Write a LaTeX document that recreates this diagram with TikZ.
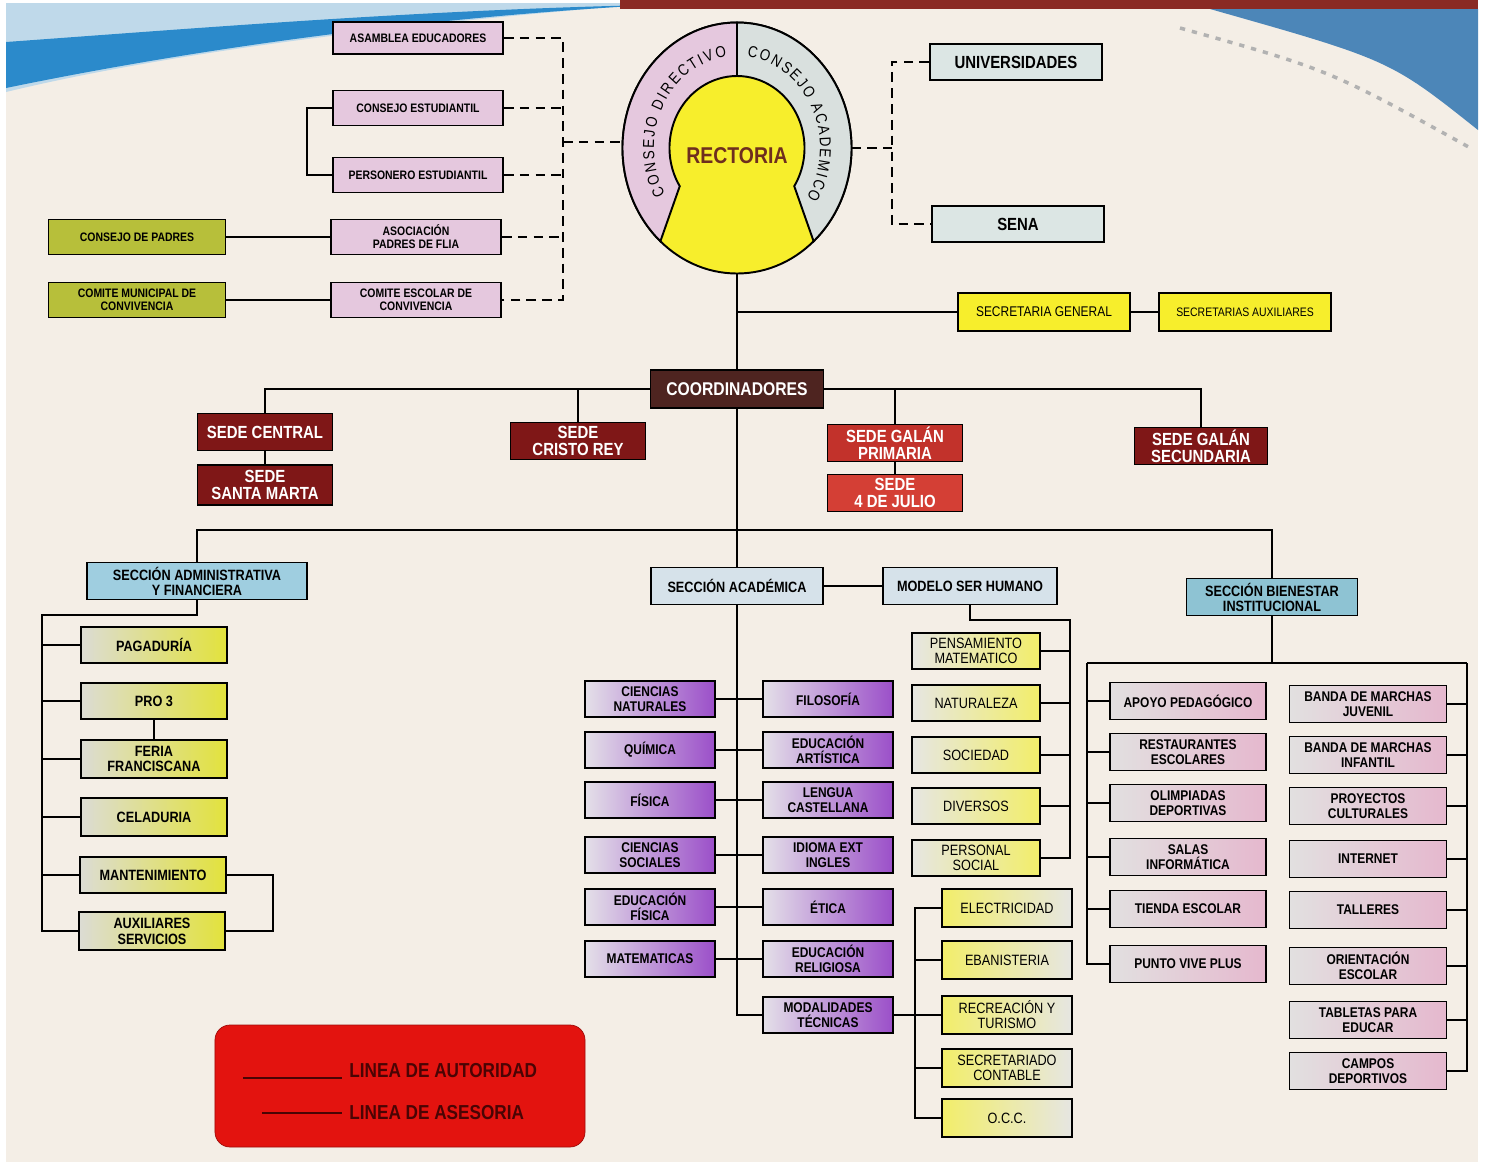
\documentclass[tikz,border=0pt]{standalone}
\usepackage{fontspec}
\setmainfont{Liberation Sans}[FakeStretch=0.85]
\usetikzlibrary{positioning,shapes.geometric,decorations.text,calc}
\definecolor{bgc}{HTML}{F4EEE6}
\definecolor{skyc}{HTML}{BFD9EA}
\definecolor{bluec}{HTML}{2B8ACB}
\definecolor{topred}{HTML}{8A2A24}
\definecolor{bluetr}{HTML}{4C86B8}
\definecolor{pinkc}{HTML}{E5C8DE}
\definecolor{olivec}{HTML}{B7BF3A}
\definecolor{extc}{HTML}{DCE6E4}
\definecolor{yelc}{HTML}{F7EE2C}
\definecolor{ringc}{HTML}{D9E0DE}
\definecolor{rectc}{HTML}{6E2E1E}
\definecolor{brownc}{HTML}{4E2420}
\definecolor{sedec}{HTML}{7F1717}
\definecolor{sedelc}{HTML}{C2322B}
\definecolor{sedel2}{HTML}{D43F35}
\definecolor{admc}{HTML}{9FCEE0}
\definecolor{acac}{HTML}{D6E2EA}
\definecolor{bienc}{HTML}{8EC3D3}
\definecolor{admlc}{HTML}{DCDCD4}
\definecolor{admrc}{HTML}{E2E23C}
\definecolor{purlc}{HTML}{E4E0E8}
\definecolor{purrc}{HTML}{9B4FC9}
\definecolor{modlc}{HTML}{E6E6E2}
\definecolor{modrc}{HTML}{F2EE6A}
\definecolor{bienlc}{HTML}{E2E0E0}
\definecolor{bienrc}{HTML}{E5B8CE}
\definecolor{legc}{HTML}{E3130F}
\definecolor{legtc}{HTML}{4A0404}

\begin{document}
\begin{tikzpicture}[x=0.2mm,y=-0.2mm,
    line/.style={line width=1.5pt},
    dline/.style={line width=1.5pt, dash pattern=on 5.5pt off 3.5pt},
    box/.style={draw, line width=1.1pt, align=center, inner sep=1pt, minimum height=7.2mm,
        font=\bfseries\fontsize{8}{8.5}\selectfont},
    pinkbox/.style={box, fill=pinkc, minimum width=34mm, minimum height=7mm,
        font=\bfseries\fontsize{7}{7.5}\selectfont},
    olivebox/.style={box, fill=olivec, minimum width=35.4mm, minimum height=7mm,
        font=\bfseries\fontsize{7}{7.5}\selectfont},
    extbox/.style={box, fill=extc, minimum width=34.4mm, font=\bfseries\fontsize{10}{11}\selectfont},
    secbox/.style={box, fill=yelc, minimum width=34.4mm, minimum height=7.6mm,
        font=\fontsize{8}{9}\selectfont},
    coordbox/.style={box, fill=brownc, text=white, minimum width=34.6mm, minimum height=7.6mm,
        font=\bfseries\fontsize{10.5}{11}\selectfont},
    sedebox/.style={box, fill=sedec, text=white, minimum width=27mm, minimum height=7.4mm,
        font=\bfseries\fontsize{10}{9.5}\selectfont},
    sedelt/.style={sedebox, fill=sedelc},
    sectbox/.style={box, fill=#1, minimum height=7.4mm, font=\bfseries\fontsize{8.5}{8.5}\selectfont},
    admbox/.style={box, left color=admlc, right color=admrc, minimum width=29.2mm,
        font=\bfseries\fontsize{8.5}{9}\selectfont},
    purbox/.style={box, left color=purlc, right color=purrc, minimum width=26mm},
    modbox/.style={box, left color=modlc, right color=modrc, minimum width=25.6mm,
        font=\fontsize{8.5}{8.5}\selectfont},
    tecbox/.style={box, left color=modrc, right color=modlc, minimum width=26mm, minimum height=7.6mm,
        font=\fontsize{8.5}{8.5}\selectfont},
    bienbox/.style={box, left color=bienlc, right color=bienrc, minimum width=31.2mm, minimum height=7.4mm},
    legbox/.style={draw=legc!70!black, fill=legc, rounded corners=3mm, minimum width=74mm, minimum height=24.4mm},
    legtxt/.style={text=legtc, inner ysep=0pt, inner xsep=4pt, font=\bfseries\fontsize{11.5}{11.5}\selectfont}]

    % paper
    \fill[white] (0,0) rectangle (1485,1167);
    \fill[bgc] (6,3) rectangle (1478,1162);
    \fill[skyc] (6,3) -- (660,3) .. controls (420,22) and (180,50) .. (6,92) -- cycle;
    \fill[bluec] (6,42) .. controls (200,28) and (420,10) .. (650,5) .. controls (420,18) and (200,48) .. (6,88) -- cycle;
    \fill[topred] (620,0) rectangle (1478,9);
    \fill[bluetr] (1210,9) -- (1478,9) -- (1478,130) .. controls (1390,60) .. cycle;
    \draw[gray!60, line width=2pt, dash pattern=on 3pt off 4pt] (1180,28) .. controls (1330,70) .. (1474,150);

    % rectoria
    \node[ellipse, draw, line width=1.1pt, fill=yelc, minimum width=45.8mm, minimum height=50.2mm,
        inner sep=0pt, outer sep=0pt] (rect) at (737,148) {};
    \filldraw[fill=pinkc, line width=1.1pt] (rect.north)
        arc[start angle=90, end angle=228, x radius=22.9mm, y radius=25.1mm]
        -- ($(rect.center)+(212:13.5mm and 14.4mm)$)
        arc[start angle=212, end angle=90, x radius=13.5mm, y radius=14.4mm] -- cycle;
    \filldraw[fill=ringc, line width=1.1pt] (rect.north)
        arc[start angle=90, end angle=-48, x radius=22.9mm, y radius=25.1mm]
        -- ($(rect.center)+(-32:13.5mm and 14.4mm)$)
        arc[start angle=-32, end angle=90, x radius=13.5mm, y radius=14.4mm] -- cycle;
    \path[decorate, decoration={text along path, text align=fit to path,
        text={|\fontsize{9}{9}\selectfont|CONSEJO DIRECTIVO}}]
        ($(rect.center)+(210:16.6mm and 18.4mm)$)
        arc[start angle=210, end angle=97, x radius=16.6mm, y radius=18.4mm];
    \path[decorate, decoration={text along path, text align=fit to path,
        text={|\fontsize{9}{9}\selectfont|CONSEJO ACADEMICO}}]
        ($(rect.center)+(83:16.6mm and 18.4mm)$)
        arc[start angle=83, end angle=-33, x radius=16.6mm, y radius=18.4mm];
    \node[text=rectc, font=\bfseries\fontsize{13}{13}\selectfont] (rtx) at (737,156) {RECTORIA};

    % asesoria
    \node[pinkbox, minimum height=6.4mm] (ase) at (418,38) {ASAMBLEA EDUCADORES};
    \node[pinkbox] (ces) at (418,108) {CONSEJO ESTUDIANTIL};
    \node[pinkbox] (per) at (418,175) {PERSONERO ESTUDIANTIL};
    \node[pinkbox] (apf) at (416,237) {ASOCIACIÓN\\PADRES DE FLIA};
    \node[pinkbox] (cec) at (416,300) {COMITE ESCOLAR DE\\CONVIVENCIA};
    \node[olivebox] (cdp) at (137,237) {CONSEJO DE PADRES};
    \node[olivebox] (cmc) at (137,300) {COMITE MUNICIPAL DE\\CONVIVENCIA};
    \coordinate (jl) at (563,142);
    \coordinate (jb) at (307,140);
    \draw[dline] (ase.east) -| (jl) |- (cec.east);
    \draw[dline] (ces.east) -- (ces.east -| jl);
    \draw[dline] (per.east) -- (per.east -| jl);
    \draw[dline] (apf.east) -- (apf.east -| jl);
    \draw[dline] (jl) -- (jl -| rect.west);
    \draw[line] (ces.west) -| (jb) |- (per.west);
    \draw[line] (cdp) -- (apf);
    \draw[line] (cmc) -- (cec);

    \node[extbox] (uni) at (1016,62) {UNIVERSIDADES};
    \node[extbox] (sena) at (1018,224) {SENA};
    \coordinate (jr) at (892,148);
    \draw[dline] (rect.east) -- (jr);
    \draw[dline] (uni.west) -| (jr) |- (sena.west);

    \node[secbox] (sg) at (1044,312) {SECRETARIA GENERAL};
    \node[secbox, font=\fontsize{7}{7}\selectfont] (sa) at (1245,312) {SECRETARIAS AUXILIARES};
    \draw[line] (sg.west) -- (sg.west -| rect.south);
    \draw[line] (sg) -- (sa);

    % coordinadores y sedes
    \node[coordbox] (coo) at (737,389) {COORDINADORES};
    \draw[line] (rect.south) -- (coo.north);
    \node[sedebox] (sc) at (265,432) {SEDE CENTRAL};
    \node[sedebox, minimum height=8mm] (ssm) at (265,485) {SEDE\\SANTA MARTA};
    \node[sedebox] (scr) at (578,441) {SEDE\\CRISTO REY};
    \node[sedelt] (sgp) at (895,443) {SEDE GALÁN\\PRIMARIA};
    \node[sedelt, fill=sedel2] (s4j) at (895,493) {SEDE\\4 DE JULIO};
    \node[sedebox, minimum width=26.6mm] (sgs) at (1201,446) {SEDE GALÁN\\SECUNDARIA};
    \draw[line] (sc.north) |- (coo.west);
    \draw[line] (scr.north) |- (coo.west);
    \draw[line] (sgp.north) |- (coo.east);
    \draw[line] (sgs.north) |- (coo.east);
    \draw[line] (sc) -- (ssm);
    \draw[line] (sgp) -- (s4j);

    % secciones
    \node[sectbox=admc, minimum width=44mm] (adm) at (197,581) {SECCIÓN ADMINISTRATIVA\\Y FINANCIERA};
    \node[sectbox=acac, minimum width=34.4mm] (aca) at (737,586) {SECCIÓN ACADÉMICA};
    \node[sectbox=acac, minimum width=34.8mm] (mod) at (970,586) {MODELO SER HUMANO};
    \node[sectbox=bienc, minimum width=34.2mm] (bie) at (1272,597) {SECCIÓN BIENESTAR\\INSTITUCIONAL};
    \coordinate (mb) at (737,530);
    \draw[line] (coo.south) -- (aca.north);
    \draw[line] (adm.north) |- (mb) -| (bie.north);
    \draw[line] (aca) -- (mod);

    % administrativa
    \node[admbox] (pag) at (154,645) {PAGADURÍA};
    \node[admbox] (pro) at (154,701) {PRO 3};
    \node[admbox, minimum height=7.6mm] (fer) at (154,759) {FERIA\\FRANCISCANA};
    \node[admbox, minimum height=7.6mm] (cel) at (154,817) {CELADURIA};
    \node[admbox] (man) at (153,875) {MANTENIMIENTO};
    \node[admbox, minimum height=7.6mm] (aux) at (152,931) {AUXILIARES\\SERVICIOS};
    \coordinate (ja) at (42,615);
    \coordinate (jm) at (273,903);
    \draw[line] (adm.south) |- (ja) |- (aux.west);
    \foreach \n in {pag,pro,fer,cel,man}
        \draw[line] (\n.west) -- (\n.west -| ja);
    \draw[line] (pro) -- (fer);
    \draw[line] (man.east) -| (jm) |- (aux.east);

    % academica
    \node[purbox] (cn) at (650,699) {CIENCIAS\\NATURALES};
    \node[purbox] (qui) at (650,750) {QUÍMICA};
    \node[purbox] (fis) at (650,800) {FÍSICA};
    \node[purbox] (cs) at (650,855) {CIENCIAS\\SOCIALES};
    \node[purbox] (ef) at (650,907) {EDUCACIÓN\\FÍSICA};
    \node[purbox] (mat) at (650,959) {MATEMATICAS};
    \node[purbox] (fil) at (828,699) {FILOSOFÍA};
    \node[purbox] (ea) at (828,750) {EDUCACIÓN\\ARTÍSTICA};
    \node[purbox] (lc) at (828,800) {LENGUA\\CASTELLANA};
    \node[purbox] (ing) at (828,855) {IDIOMA EXT\\INGLES};
    \node[purbox] (eti) at (828,907) {ÉTICA};
    \node[purbox] (er) at (828,959) {EDUCACIÓN\\RELIGIOSA};
    \node[purbox] (mt) at (828,1015) {MODALIDADES\\TÉCNICAS};
    \draw[line] (aca.south) |- (mt.west);
    \draw[line] (cn) -- (fil);
    \draw[line] (qui) -- (ea);
    \draw[line] (fis) -- (lc);
    \draw[line] (cs) -- (ing);
    \draw[line] (ef) -- (eti);
    \draw[line] (mat) -- (er);

    % modelo ser humano
    \node[modbox] (pm) at (976,651) {PENSAMIENTO\\MATEMATICO};
    \node[modbox] (nat) at (976,703) {NATURALEZA};
    \node[modbox] (soc) at (976,755) {SOCIEDAD};
    \node[modbox] (div) at (976,806) {DIVERSOS};
    \node[modbox] (ps) at (976,858) {PERSONAL\\SOCIAL};
    \coordinate (jh) at (1070,620);
    \draw[line] (mod.south) |- (jh) |- (ps.east);
    \foreach \n in {pm,nat,soc,div}
        \draw[line] (\n.east) -- (\n.east -| jh);

    % modalidades
    \node[tecbox] (ele) at (1007,908) {ELECTRICIDAD};
    \node[tecbox] (eba) at (1007,960) {EBANISTERIA};
    \node[tecbox] (rtu) at (1007,1015) {RECREACIÓN Y\\TURISMO};
    \node[tecbox] (sct) at (1007,1068) {SECRETARIADO\\CONTABLE};
    \node[tecbox] (occ) at (1007,1118) {O.C.C.};
    \coordinate (jt) at (915,1000);
    \draw[line] (ele.west) -| (jt) |- (occ.west);
    \foreach \n in {eba,sct}
        \draw[line] (\n.west) -- (\n.west -| jt);
    \draw[line] (mt) -- (rtu);

    % bienestar
    \node[bienbox] (apo) at (1188,701) {APOYO PEDAGÓGICO};
    \node[bienbox] (res) at (1188,752) {RESTAURANTES\\ESCOLARES};
    \node[bienbox] (oli) at (1188,803) {OLIMPIADAS\\DEPORTIVAS};
    \node[bienbox] (sal) at (1188,857) {SALAS\\INFORMÁTICA};
    \node[bienbox] (tie) at (1188,909) {TIENDA ESCOLAR};
    \node[bienbox] (pvp) at (1188,964) {PUNTO VIVE PLUS};
    \node[bienbox, minimum width=31.4mm] (bj) at (1368,704) {BANDA DE MARCHAS\\JUVENIL};
    \node[bienbox, minimum width=31.4mm] (bi) at (1368,755) {BANDA DE MARCHAS\\INFANTIL};
    \node[bienbox, minimum width=31.4mm] (pc) at (1368,806) {PROYECTOS\\CULTURALES};
    \node[bienbox, minimum width=31.4mm] (int) at (1368,859) {INTERNET};
    \node[bienbox, minimum width=31.4mm] (tal) at (1368,910) {TALLERES};
    \node[bienbox, minimum width=31.4mm] (ori) at (1368,966) {ORIENTACIÓN\\ESCOLAR};
    \node[bienbox, minimum width=31.4mm] (tab) at (1368,1020) {TABLETAS PARA\\EDUCAR};
    \node[bienbox, minimum width=31.4mm] (cam) at (1368,1071) {CAMPOS\\DEPORTIVOS};
    \coordinate (jwl) at (1087,663);
    \coordinate (jwr) at (1467,663);
    \draw[line] (bie.south) -- (bie.south |- jwl);
    \draw[line] (jwl) -- (jwr);
    \draw[line] (jwl) |- (pvp.west);
    \draw[line] (jwr) |- (cam.east);
    \foreach \n in {apo,res,oli,sal,tie}
        \draw[line] (\n.west) -- (\n.west -| jwl);
    \foreach \n in {bj,bi,pc,int,tal,ori,tab}
        \draw[line] (\n.east) -- (\n.east -| jwr);

    % leyenda
    \node[legbox] (leg) at (400,1086) {};
    \node[legtxt, anchor=west] (la) at (342,1071) {LINEA DE AUTORIDAD};
    \node[legtxt, anchor=west] (lb) at (342,1113) {LINEA DE ASESORIA};
    \coordinate (l1) at (243,1078);
    \coordinate (l2) at (262,1113);
    \draw[legtc, line width=0.6pt] (l1) -- (l1 -| la.west);
    \draw[legtc, line width=1.6pt] (l2) -- (l2 -| lb.west);
\end{tikzpicture}
\end{document}
